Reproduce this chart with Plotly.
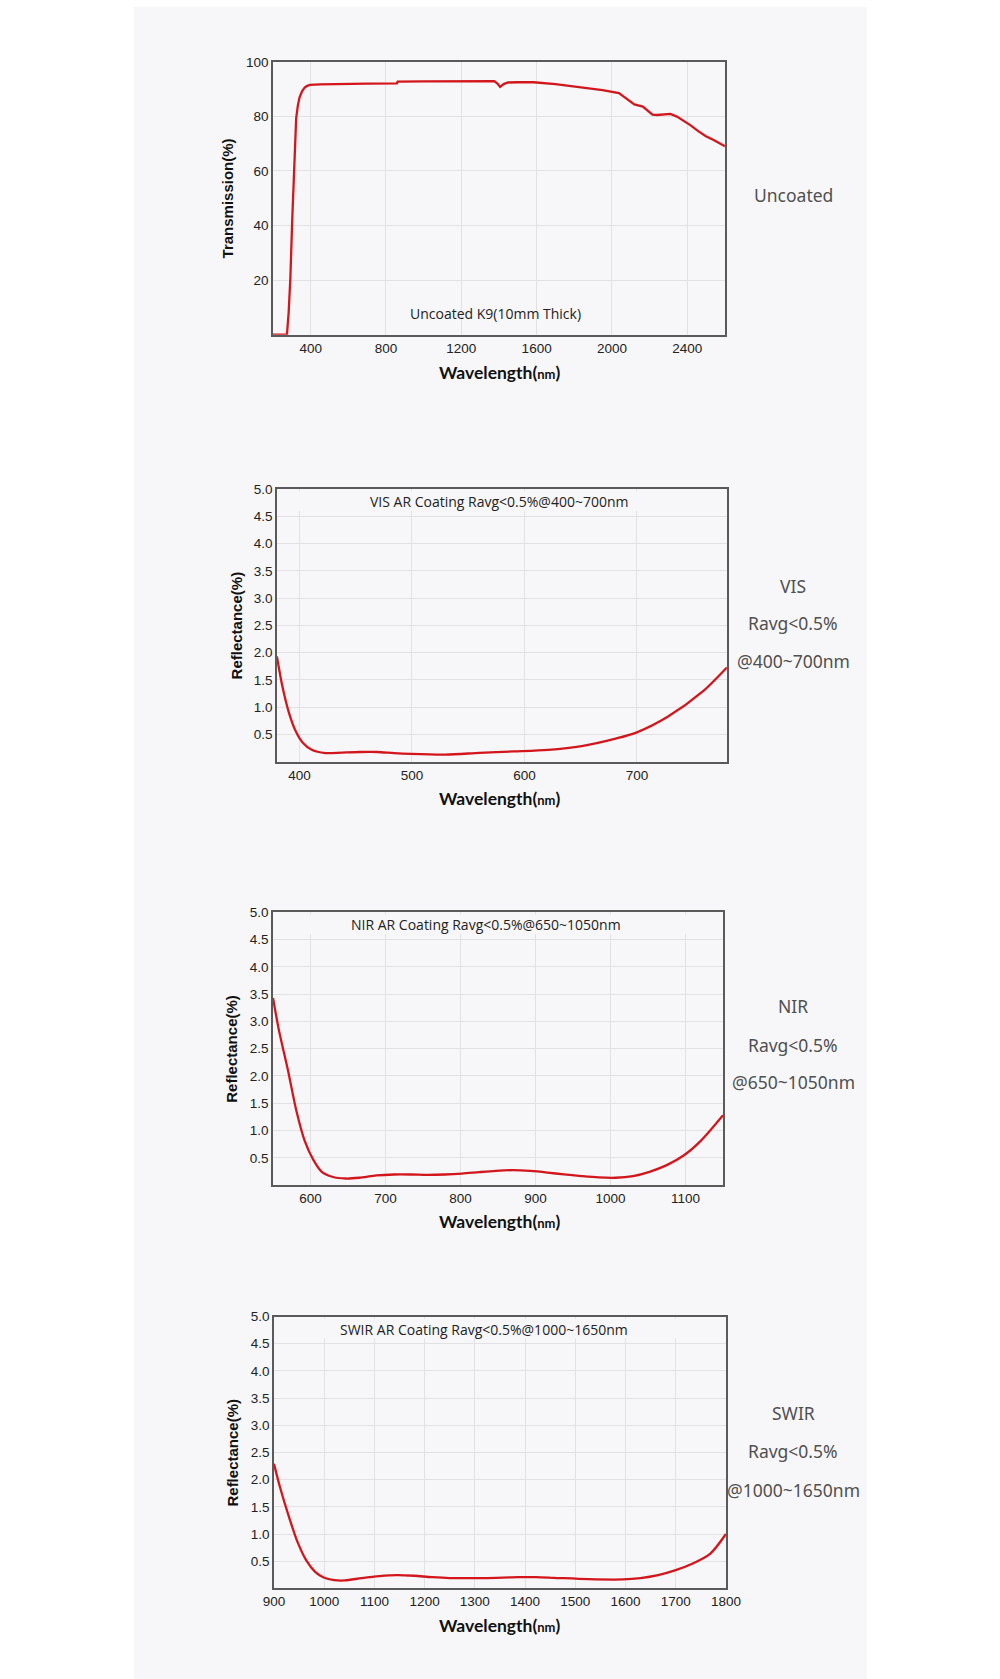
import plotly.graph_objects as go

W, H = 1000, 1679

# ---------------- data ----------------
trans_wl = [200, 274, 283, 292, 302, 311, 318, 323, 332, 341, 355, 369, 382, 396, 450, 568, 700, 858, 862,
            1000, 1200, 1375, 1392, 1406, 1425, 1448, 1500, 1584, 1700, 1838, 1950, 2037, 2080, 2119, 2164,
            2190, 2215, 2240, 2273, 2310, 2345, 2380, 2418, 2460, 2499, 2540, 2570, 2600]
trans_val = [0, 0, 8, 20.4, 42, 60.5, 72, 79.3, 84, 87, 89.3, 90.6, 91.2, 91.5, 91.7, 91.9, 92.0, 92.1, 92.7,
             92.8, 92.9, 92.9, 92.0, 90.8, 91.8, 92.4, 92.5, 92.5, 91.8, 90.6, 89.6, 88.5, 86.5, 84.4, 83.6,
             82.0, 80.6, 80.5, 80.8, 80.9, 79.9, 78.5, 76.7, 74.5, 72.7, 71.3, 70.3, 69.0]

vis_wl = [380, 385, 391, 397, 403, 411, 423, 438, 454, 469, 484, 499, 530, 560, 590, 621, 651, 682, 700, 727, 758, 780]
vis_val = [1.93, 1.37, 0.88, 0.55, 0.35, 0.22, 0.16, 0.17, 0.18, 0.18, 0.16, 0.146, 0.134, 0.164, 0.19, 0.22,
           0.29, 0.43, 0.54, 0.82, 1.28, 1.73]

nir_wl = [550, 558, 570, 581, 592, 604, 615, 629, 647, 665, 688, 711, 734, 756, 779, 802, 825, 847, 870, 893,
          916, 938, 961, 984, 1007, 1030, 1052, 1075, 1098, 1121, 1150]
nir_val = [3.43, 2.83, 2.10, 1.37, 0.82, 0.456, 0.243, 0.152, 0.12, 0.134, 0.176, 0.194, 0.194, 0.188, 0.194,
           0.21, 0.237, 0.26, 0.273, 0.26, 0.23, 0.194, 0.164, 0.14, 0.134, 0.164, 0.243, 0.365, 0.547, 0.82, 1.28]

swir_wl = [900, 912, 930, 947, 964, 982, 999, 1020, 1041, 1075, 1110, 1145, 1179, 1214, 1249, 1318, 1387,
           1422, 1457, 1526, 1595, 1630, 1665, 1700, 1734, 1769, 1800]
swir_val = [2.29, 1.86, 1.31, 0.85, 0.52, 0.305, 0.20, 0.152, 0.146, 0.19, 0.226, 0.244, 0.232, 0.207, 0.19,
            0.19, 0.207, 0.207, 0.195, 0.17, 0.165, 0.19, 0.244, 0.335, 0.457, 0.64, 1.0]

trans_xticks = [400, 800, 1200, 1600, 2000, 2400]
trans_yticks = [20, 40, 60, 80, 100]
refl_yticks = [0.5, 1.0, 1.5, 2.0, 2.5, 3.0, 3.5, 4.0, 4.5, 5.0]
vis_xticks = [400, 500, 600, 700]
nir_xticks = [600, 700, 800, 900, 1000, 1100]
swir_xticks = [900, 1000, 1100, 1200, 1300, 1400, 1500, 1600, 1700, 1800]

chart_notes = ["Uncoated K9(10mm Thick)",
               "VIS AR Coating Ravg<0.5%@400~700nm",
               "NIR AR Coating Ravg<0.5%@650~1050nm",
               "SWIR AR Coating Ravg<0.5%@1000~1650nm"]
side_labels = [["Uncoated"],
               ["VIS", "Ravg<0.5%", "@400~700nm"],
               ["NIR", "Ravg<0.5%", "@650~1050nm"],
               ["SWIR", "Ravg<0.5%", "@1000~1650nm"]]
y_titles = ["Transmission(%)", "Reflectance(%)", "Reflectance(%)", "Reflectance(%)"]

# ---------------- layout helpers ----------------
PANEL = "#f7f7f9"
GRID = "#e2e2e4"
LINE = "#d2161c"
FRAME = "#5a5a5a"

# pixel boxes: (left, right, top, bottom)
boxes = [(269, 733, 55, 329), (273, 735, 484, 758), (269, 731, 909, 1183), (270, 734, 1315, 1588)]
xranges = [[200, 2600], [380, 780], [550, 1150], [900, 1800]]
yranges = [[0, 100], [0, 5], [0, 5], [0, 5]]
xtickss = [trans_xticks, vis_xticks, nir_xticks, swir_xticks]
ytickss = [trans_yticks, refl_yticks, refl_yticks, refl_yticks]
series = [(trans_wl, trans_val, "linear"), (vis_wl, vis_val, "spline"),
          (nir_wl, nir_val, "spline"), (swir_wl, swir_val, "spline")]
note_pos = [(1379, 7.9), (577, 4.77), (834, 4.77), (1318, 4.77)]
ytitle_x = [222, 231, 227, 227]
xtitle_y = [367, 795, 1220, 1625]
side_y = [[189], [581, 619, 657], [1003, 1042, 1080], [1412, 1450, 1489]]

fx = lambda px: px / W
fy = lambda py: 1 - py / H

fig = go.Figure()
annotations = []
shapes = [dict(type="rect", xref="paper", yref="paper", x0=fx(126), x1=fx(879), y0=0, y1=1,
               fillcolor=PANEL, line=dict(width=0), layer="below")]

TICKFONT = dict(family="Liberation Sans, Arial", size=13.5, color="#222")

for i in range(4):
    l, r, t, b = boxes[i]
    sfx = "" if i == 0 else str(i + 1)
    xa, ya = "xaxis" + sfx, "yaxis" + sfx
    xs, ys, shape = series[i]
    fig.add_trace(go.Scatter(x=xs, y=ys, mode="lines", xaxis="x" + sfx, yaxis="y" + sfx,
                             line=dict(color=LINE, width=2.3, shape=shape, smoothing=0.8),
                             showlegend=False, hoverinfo="x+y"))
    yt = ytickss[i]
    fig.layout[xa] = dict(domain=[fx(l), fx(r)], range=xranges[i], anchor="y" + sfx,
                          tickvals=xtickss[i], showgrid=True, gridcolor=GRID, gridwidth=1,
                          showline=True, linecolor=FRAME, linewidth=1.5, mirror=True,
                          ticks="", zeroline=False, tickfont=TICKFONT)
    fig.layout[ya] = dict(domain=[fy(b), fy(t)], range=yranges[i], anchor="x" + sfx,
                          tickvals=yt, ticktext=[("%d" % v) if i == 0 else ("%.1f" % v) for v in yt],
                          showgrid=True, gridcolor=GRID, gridwidth=1,
                          showline=True, linecolor=FRAME, linewidth=1.5, mirror=True,
                          ticks="", zeroline=False, tickfont=TICKFONT)
    # hide gridlines behind the note at the top of reflectance charts
    if i > 0:
        shapes.append(dict(type="rect", xref="paper", yref="y" + sfx,
                           x0=fx(l + 2), x1=fx(r - 2), y0=4.6, y1=4.96, fillcolor=PANEL,
                           line=dict(width=0), layer="above"))
    nx, ny = note_pos[i]
    annotations.append(dict(x=nx, y=ny, xref="x" + sfx, yref="y" + sfx, text=chart_notes[i],
                            showarrow=False, xanchor="center", yanchor="middle",
                            font=dict(family="Open Sans", size=14, color="#222")))
    annotations.append(dict(x=fx(ytitle_x[i]), y=fy((t + b) / 2), xref="paper", yref="paper",
                            text="<b>%s</b>" % y_titles[i], textangle=-90, showarrow=False,
                            xanchor="center", yanchor="middle",
                            font=dict(family="Liberation Sans, Arial", size=15, color="#111")))
    annotations.append(dict(x=fx(502), y=fy(xtitle_y[i]), xref="paper", yref="paper",
                            text="<b>Wavelength(<span style='font-size:13px'>nm</span>)</b>",
                            showarrow=False, xanchor="center", yanchor="middle",
                            font=dict(family="Lato", size=17.5, color="#111")))
    for txt, py in zip(side_labels[i], side_y[i]):
        annotations.append(dict(x=fx(803), y=fy(py), xref="paper", yref="paper", text=txt,
                                showarrow=False, xanchor="center", yanchor="middle",
                                font=dict(family="Noto Sans", size=17.5, color="#505050")))

fig.update_layout(width=W, height=H, margin=dict(l=0, r=0, t=0, b=0),
                  paper_bgcolor="white", plot_bgcolor=PANEL,
                  annotations=annotations, shapes=shapes, showlegend=False)

fig.write_html(
    "out.html", config={"displayModeBar": False},
    post_script=("document.documentElement.style.overflow='hidden';"
                 "document.body.style.margin='0';document.body.style.padding='0';"
                 "var gd=document.getElementById('{plot_id}');"
                 "gd.style.position='fixed';gd.style.left='0px';gd.style.top='0px';"))
